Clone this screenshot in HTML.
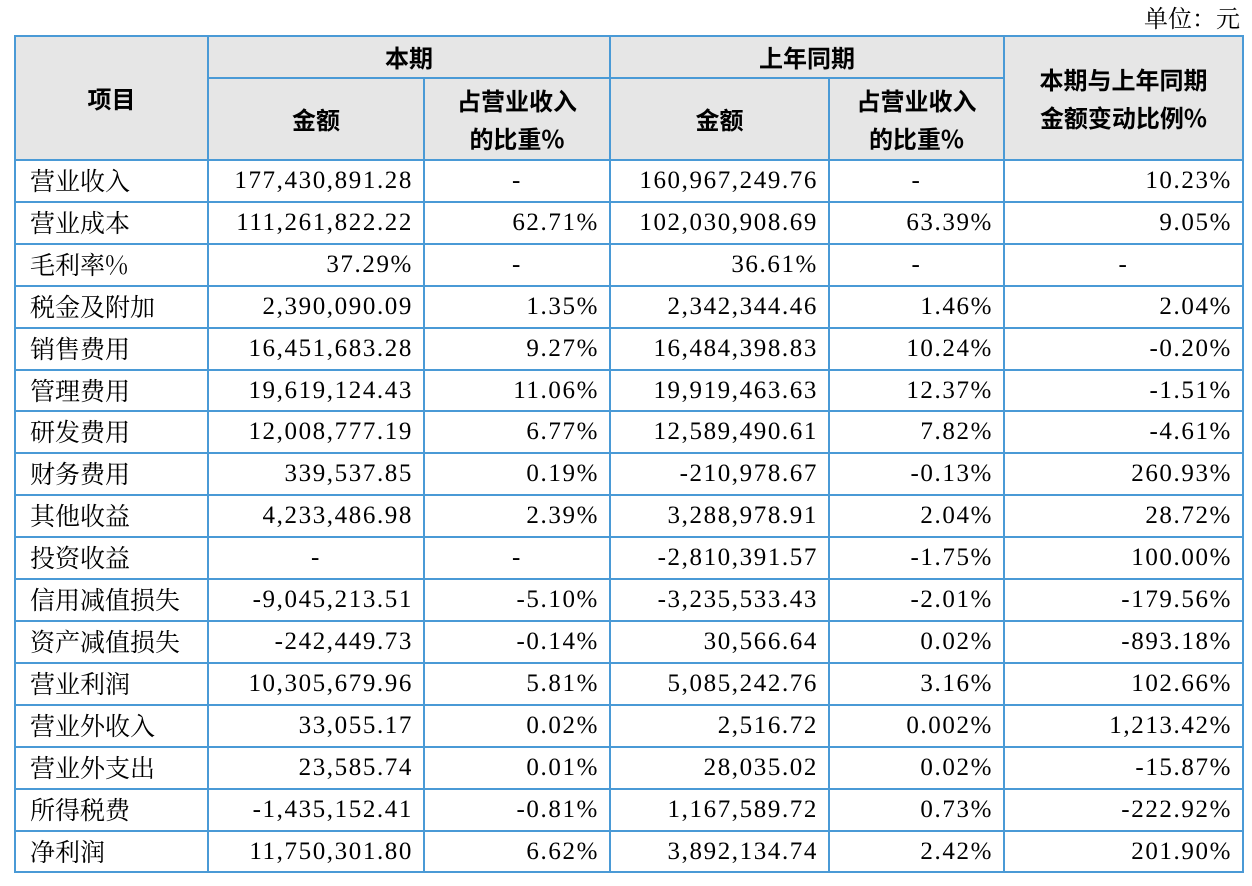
<!DOCTYPE html>
<html><head><meta charset="utf-8"><style>
body{margin:0;width:1252px;height:886px;background:#fff;position:relative;overflow:hidden;font-family:"Liberation Serif","Noto Serif CJK SC",serif;color:#000}
.unit{position:absolute;right:12px;top:0px;font-size:24px;font-family:"Noto Serif CJK SC",serif;line-height:34px}
table{position:absolute;left:14px;top:35px;border-collapse:collapse;table-layout:fixed}
td{border:2px solid #4a9ad6;padding:0 10px;font-size:25px;letter-spacing:1.6px;height:39.9px;line-height:39.9px;white-space:nowrap;text-align:right;vertical-align:middle}
td.n{text-align:left;font-family:"Noto Serif CJK SC",serif;font-size:25px;letter-spacing:0;padding-left:14px}
th{border:2px solid #4a9ad6;background:#e6e6e6;font-weight:bold;font-size:24px;font-family:"Noto Sans CJK SC",sans-serif;line-height:38px;padding:0}
</style></head><body>
<div class="unit">单位：元</div>
<table>
<colgroup><col style="width:193px"><col style="width:216px"><col style="width:186px"><col style="width:219px"><col style="width:175px"><col style="width:239px"></colgroup>
<tr style="height:42px"><th rowspan="2">项目</th><th colspan="2">本期</th><th colspan="2">上年同期</th><th rowspan="2">本期与上年同期<br>金额变动比例%</th></tr>
<tr style="height:82px"><th>金额</th><th>占营业收入<br>的比重%</th><th>金额</th><th>占营业收入<br>的比重%</th></tr>
<tr><td class="n">营业收入</td><td>177,430,891.28</td><td style="text-align:center">-</td><td>160,967,249.76</td><td style="text-align:center">-</td><td>10.23%</td></tr>
<tr><td class="n">营业成本</td><td>111,261,822.22</td><td>62.71%</td><td>102,030,908.69</td><td>63.39%</td><td>9.05%</td></tr>
<tr><td class="n">毛利率%</td><td>37.29%</td><td style="text-align:center">-</td><td>36.61%</td><td style="text-align:center">-</td><td style="text-align:center">-</td></tr>
<tr><td class="n">税金及附加</td><td>2,390,090.09</td><td>1.35%</td><td>2,342,344.46</td><td>1.46%</td><td>2.04%</td></tr>
<tr><td class="n">销售费用</td><td>16,451,683.28</td><td>9.27%</td><td>16,484,398.83</td><td>10.24%</td><td>-0.20%</td></tr>
<tr><td class="n">管理费用</td><td>19,619,124.43</td><td>11.06%</td><td>19,919,463.63</td><td>12.37%</td><td>-1.51%</td></tr>
<tr><td class="n">研发费用</td><td>12,008,777.19</td><td>6.77%</td><td>12,589,490.61</td><td>7.82%</td><td>-4.61%</td></tr>
<tr><td class="n">财务费用</td><td>339,537.85</td><td>0.19%</td><td>-210,978.67</td><td>-0.13%</td><td>260.93%</td></tr>
<tr><td class="n">其他收益</td><td>4,233,486.98</td><td>2.39%</td><td>3,288,978.91</td><td>2.04%</td><td>28.72%</td></tr>
<tr><td class="n">投资收益</td><td style="text-align:center">-</td><td style="text-align:center">-</td><td>-2,810,391.57</td><td>-1.75%</td><td>100.00%</td></tr>
<tr><td class="n">信用减值损失</td><td>-9,045,213.51</td><td>-5.10%</td><td>-3,235,533.43</td><td>-2.01%</td><td>-179.56%</td></tr>
<tr><td class="n">资产减值损失</td><td>-242,449.73</td><td>-0.14%</td><td>30,566.64</td><td>0.02%</td><td>-893.18%</td></tr>
<tr><td class="n">营业利润</td><td>10,305,679.96</td><td>5.81%</td><td>5,085,242.76</td><td>3.16%</td><td>102.66%</td></tr>
<tr><td class="n">营业外收入</td><td>33,055.17</td><td>0.02%</td><td>2,516.72</td><td>0.002%</td><td>1,213.42%</td></tr>
<tr><td class="n">营业外支出</td><td>23,585.74</td><td>0.01%</td><td>28,035.02</td><td>0.02%</td><td>-15.87%</td></tr>
<tr><td class="n">所得税费</td><td>-1,435,152.41</td><td>-0.81%</td><td>1,167,589.72</td><td>0.73%</td><td>-222.92%</td></tr>
<tr><td class="n">净利润</td><td>11,750,301.80</td><td>6.62%</td><td>3,892,134.74</td><td>2.42%</td><td>201.90%</td></tr>
</table>
</body></html>
